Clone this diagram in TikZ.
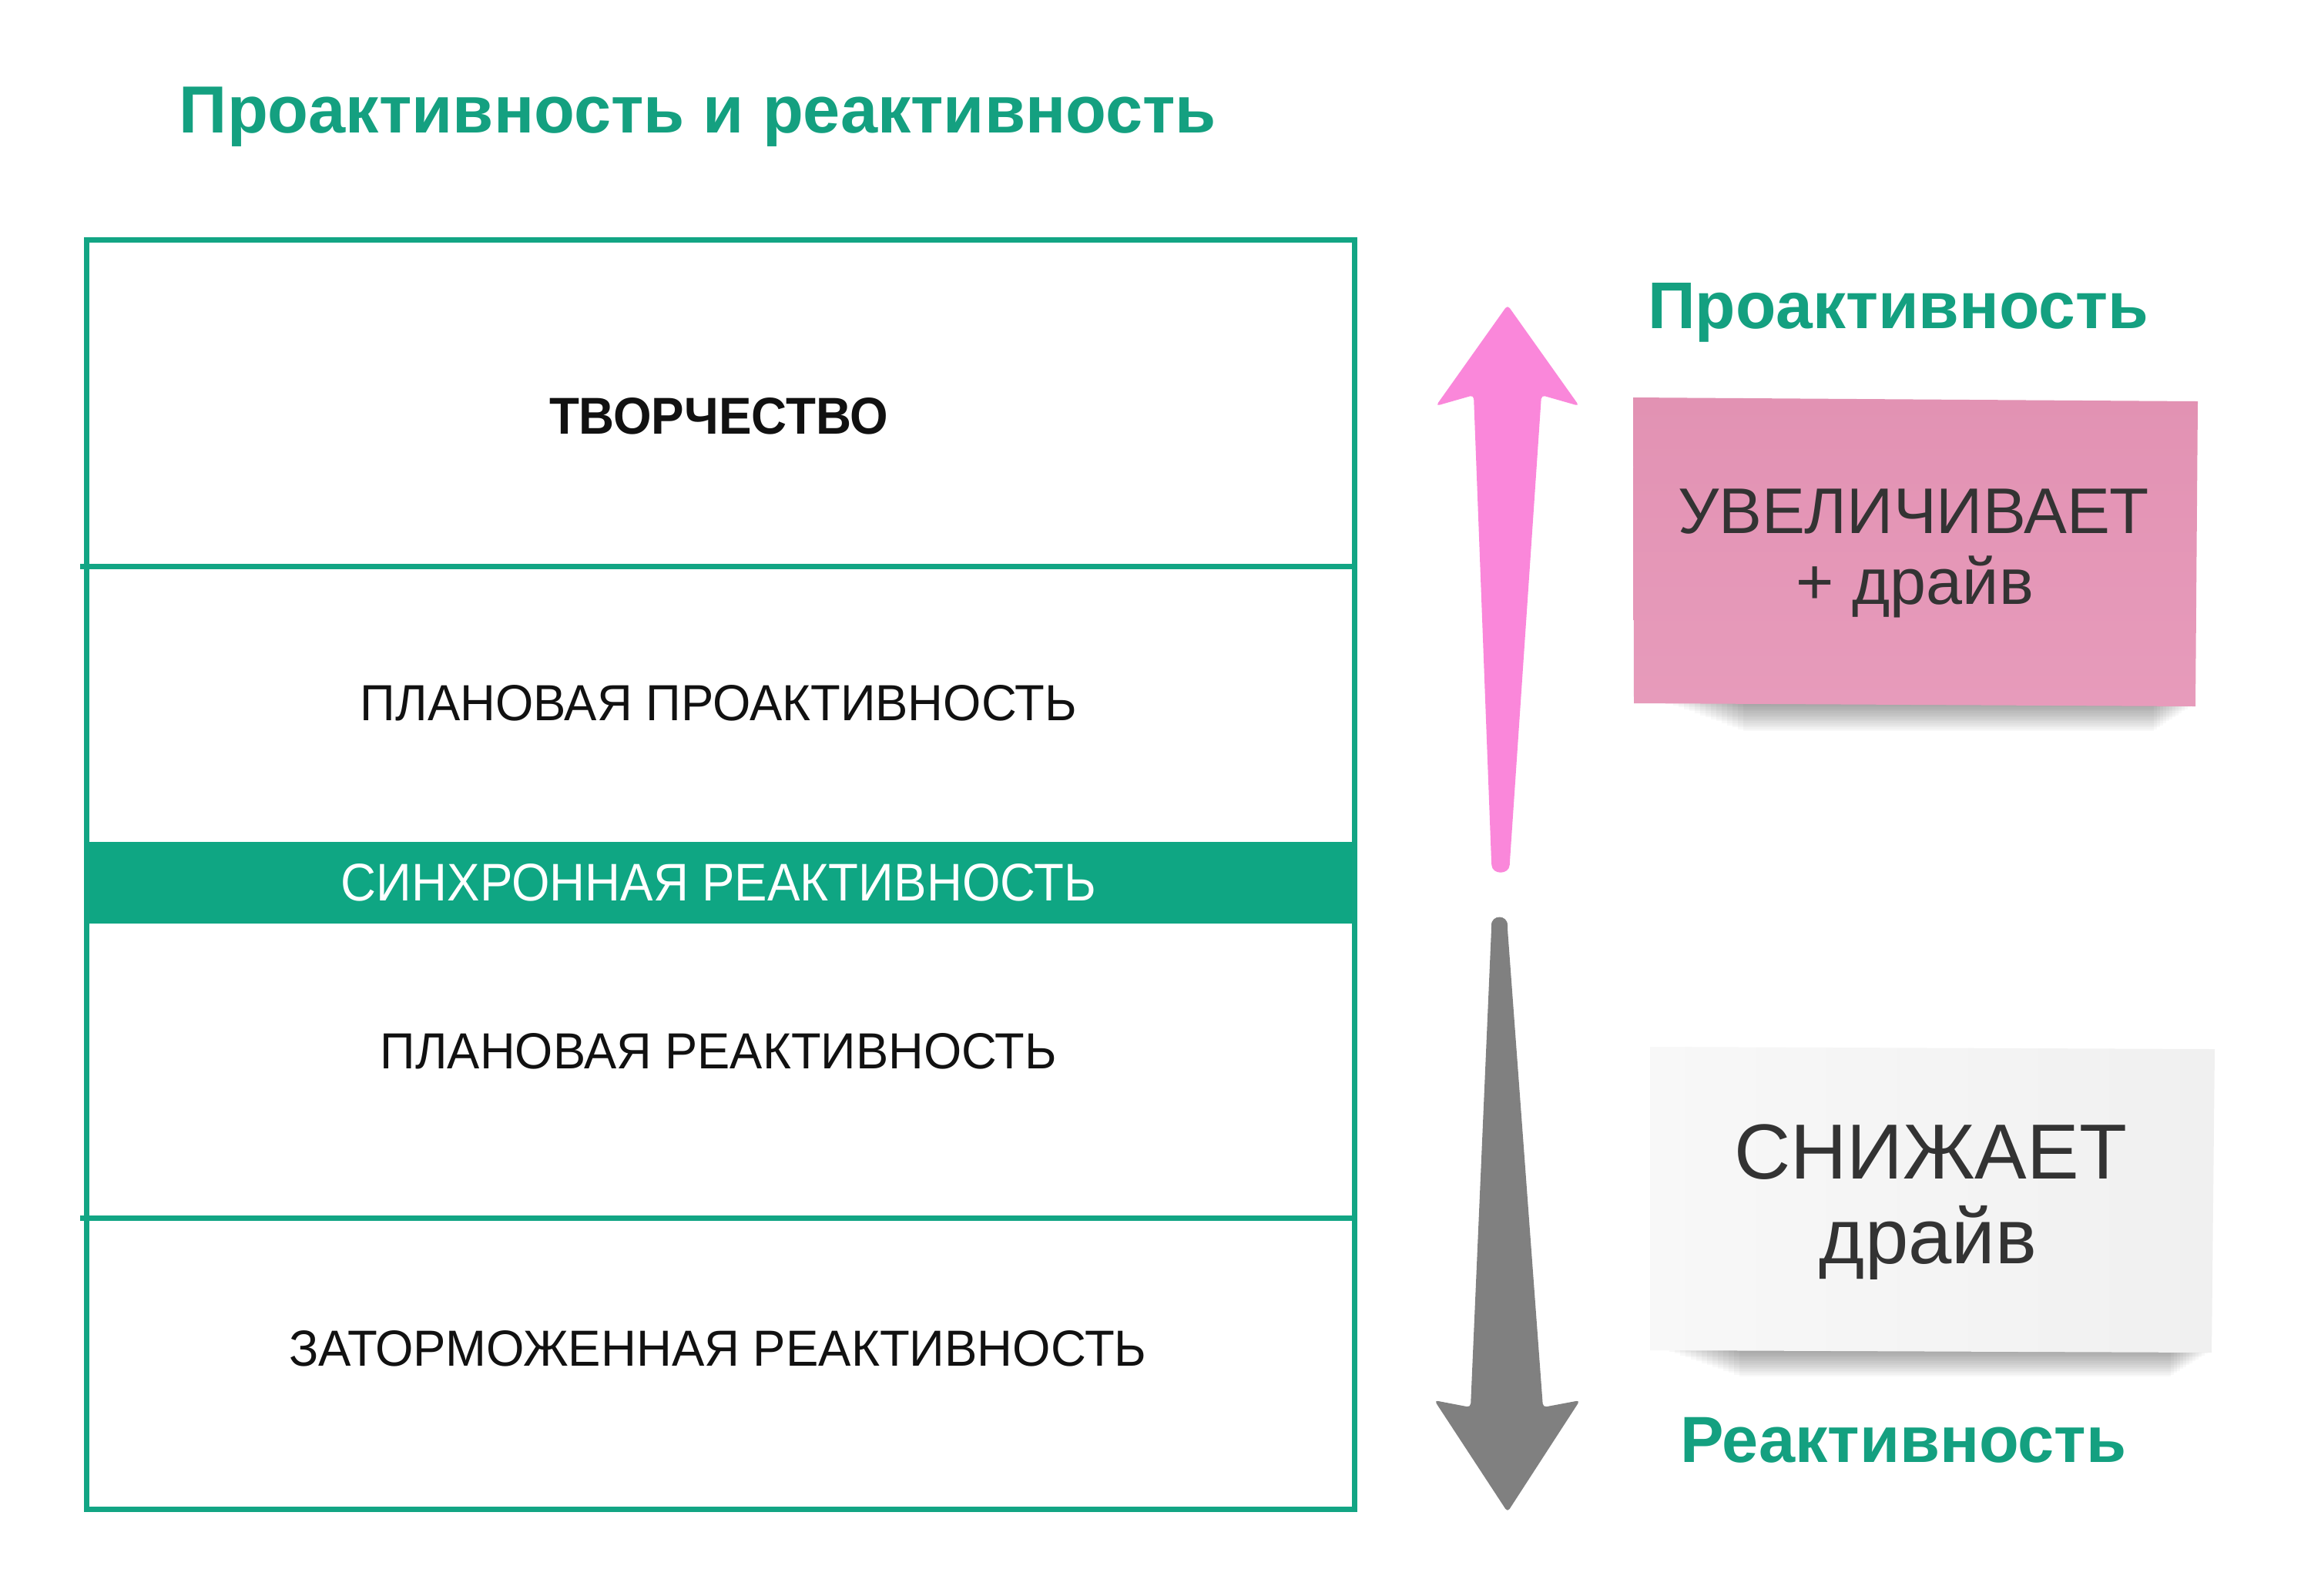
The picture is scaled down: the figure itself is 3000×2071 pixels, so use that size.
\documentclass[tikz,border=0pt]{standalone}
\usepackage{fontspec}
\setmainfont{Liberation Sans}
\usepackage{graphicx}
\definecolor{titlegreen}{HTML}{14A080}
\definecolor{tealline}{HTML}{12A584}
\definecolor{tealband}{HTML}{0FA683}
\definecolor{pinkarrow}{HTML}{FA87DA}
\definecolor{grayarrow}{HTML}{808080}
\definecolor{notepinkA}{HTML}{E292B3}
\definecolor{notepinkB}{HTML}{E79BBB}
\definecolor{notewhiteA}{HTML}{F8F8F8}
\definecolor{notewhiteB}{HTML}{F0F0F0}
\definecolor{notetext}{HTML}{333333}
\definecolor{rowtext}{HTML}{111111}
\tikzset{
  boxline/.style={draw=tealline, line width=1.75pt},
  rowlabel/.style={inner sep=0pt, text=rowtext},
  sidelabel/.style={inner sep=0pt, text=titlegreen, anchor=base},
  notelabel/.style={inner sep=0pt, text=notetext, anchor=base},
  shadowlayer/.style={fill=black, opacity=0.028},
}
\begin{document}
\begin{tikzpicture}[x=0.25pt,y=-0.25pt]
\useasboundingbox (0,0) rectangle (3000,2071);
\fill[white] (0,0) rectangle (3000,2071);

% title
\node[anchor=base west, inner sep=0pt, text=titlegreen] (title) at (232,172)
  {\resizebox{336.5pt}{!}{\bfseries Проактивность и реактивность}};

% table frame
\fill[tealband] (112,1093) rectangle (1758,1199);
\draw[boxline] (104,735) -- (1758,735);
\draw[boxline] (104,1581) -- (1758,1581);
\draw[boxline] (112,311) rectangle (1758,1959);

\node[rowlabel] (tvor) at (933,540) {\resizebox{110pt}{11.75pt}{\bfseries ТВОРЧЕСТВО}};
\node[rowlabel] (planpro) at (933,913) {\resizebox{232.5pt}{11.5pt}{ПЛАНОВАЯ ПРОАКТИВНОСТЬ}};
\node[rowlabel, text=white] (sync) at (933,1146) {\resizebox{245pt}{12pt}{СИНХРОННАЯ РЕАКТИВНОСТЬ}};
\node[rowlabel] (planre) at (933,1365) {\resizebox{219.5pt}{11.5pt}{ПЛАНОВАЯ РЕАКТИВНОСТЬ}};
\node[rowlabel] (zator) at (932,1751) {\resizebox{278.25pt}{11.5pt}{ЗАТОРМОЖЕННАЯ РЕАКТИВНОСТЬ}};

% pink arrow (up)
\fill[pinkarrow, rounded corners=1.2pt]
  (1957,396) -- (2050,527) -- (2001,513) -- (1960,1118)
  .. controls (1959,1136) and (1937,1136) .. (1936,1118)
  -- (1913,513) -- (1864,527) -- cycle;

% gray arrow (down)
\fill[grayarrow, rounded corners=1.2pt]
  (1936,1206) .. controls (1936,1187) and (1957,1187) .. (1957,1206)
  -- (2003,1827) -- (2051,1818) -- (1957,1963) -- (1862,1818)
  -- (1909,1827) -- cycle;

% side labels
\node[sidelabel] (pro) at (2464,426) {\resizebox{162.5pt}{!}{\bfseries Проактивность}};
\node[sidelabel] (re) at (2471,1898) {\resizebox{144.75pt}{!}{\bfseries Реактивность}};

% pink note shadow
\foreach \i in {1,...,14}
  \fill[shadowlayer] (2165+\i*7,913) rectangle (2852-\i*4,913+\i*2.6);
% pink note
\shade[top color=notepinkA, bottom color=notepinkB]
  (2120,516) -- (2853,521) -- (2850,917) -- (2121,913) -- cycle;
\node[notelabel] (uvel) at (2484,692) {\resizebox{153pt}{!}{УВЕЛИЧИВАЕТ}};
\node[notelabel] (plusdr) at (2486,784) {\resizebox{77pt}{!}{+ драйв}};

% white note shadow
\foreach \i in {1,...,14}
  \fill[shadowlayer] (2160+\i*7,1752) rectangle (2874-\i*4,1752+\i*2.5);
% white note
\shade[left color=notewhiteA, right color=notewhiteB]
  (2142,1359) -- (2875,1362) -- (2871,1756) -- (2142,1753) -- cycle;
\node[notelabel] (sniz) at (2506,1530) {\resizebox{127.5pt}{!}{СНИЖАЕТ}};
\node[notelabel] (drive) at (2503,1640) {\resizebox{70.5pt}{!}{драйв}};
\end{tikzpicture}
\end{document}
